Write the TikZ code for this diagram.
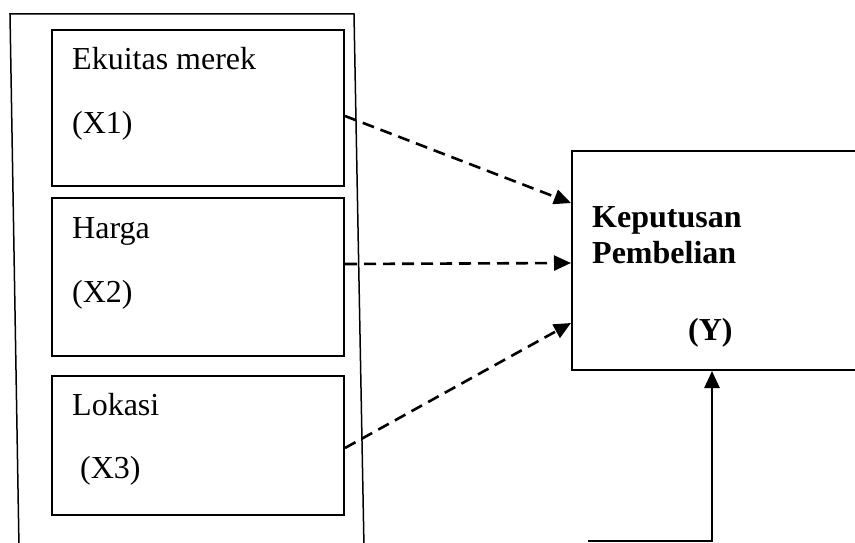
\documentclass[tikz,border=0pt]{standalone}
\usepackage{fontspec}
\setmainfont{Liberation Serif}
\usetikzlibrary{arrows.meta}
\begin{document}
\begin{tikzpicture}[x=1pt,y=-1pt,
  varbox/.style={draw,line width=2pt,minimum width=292pt,anchor=north west,inner sep=0pt},
  label/.style={anchor=base west,inner sep=0pt,font=\fontsize{32}{36}\selectfont},
  effect/.style={line width=2.6pt,dash pattern=on 12pt off 7pt,
    -{Triangle[length=17pt,width=15pt]}},
  solidarrow/.style={line width=2.6pt,-{Triangle[length=17pt,width=15pt]}}]
\useasboundingbox (0,0) rectangle (855,543);

% outer frame around the independent variables
\coordinate (ftl) at (10,14);
\coordinate (ftr) at (354,14);
\coordinate (fbl) at (19,548);
\coordinate (fbr) at (364,548);
\draw[line width=1.5pt] (fbl) -- (ftl) -- (ftr) -- (fbr);

% independent variables
\node[varbox,minimum height=156pt] (x1) at (51,29) {};
\node[varbox,minimum height=158pt] (x2) at (51,197) {};
\node[varbox,minimum height=139pt] (x3) at (51,375) {};

\node[label] (t1a) at (72,70) {Ekuitas merek};
\node[label] (t1b) at (72,133) {(X1)};
\node[label] (t2a) at (72,238) {Harga};
\node[label] (t2b) at (72,302) {(X2)};
\node[label] (t3a) at (72,415) {Lokasi};
\node[label] (t3b) at (80,478) {(X3)};

% dependent variable
\node[draw,line width=2pt,minimum width=300pt,minimum height=219pt,
  anchor=north west,inner sep=0pt] (y) at (571,150) {};
\node[label,font=\fontsize{32}{36}\selectfont\bfseries] (ya) at (592,227) {Keputusan};
\node[label,font=\fontsize{32}{36}\selectfont\bfseries] (yb) at (592,263) {Pembelian};
\node[label,font=\fontsize{32}{36}\selectfont\bfseries] (yc) at (688,340) {(Y)};

% partial effects
\draw[effect] ([yshift=-8pt]x1.east) -- ([yshift=-53pt]y.north west);
\draw[effect] ([yshift=13pt]x2.east) -- ([yshift=-113pt]y.north west);
\draw[effect] ([yshift=-2.5pt]x3.east) -- ([yshift=-173pt]y.north west);

% simultaneous effect
\coordinate (bstart) at (588,541);
\draw[solidarrow] (bstart) -| ([xshift=141pt]y.south west);
\end{tikzpicture}
\end{document}
